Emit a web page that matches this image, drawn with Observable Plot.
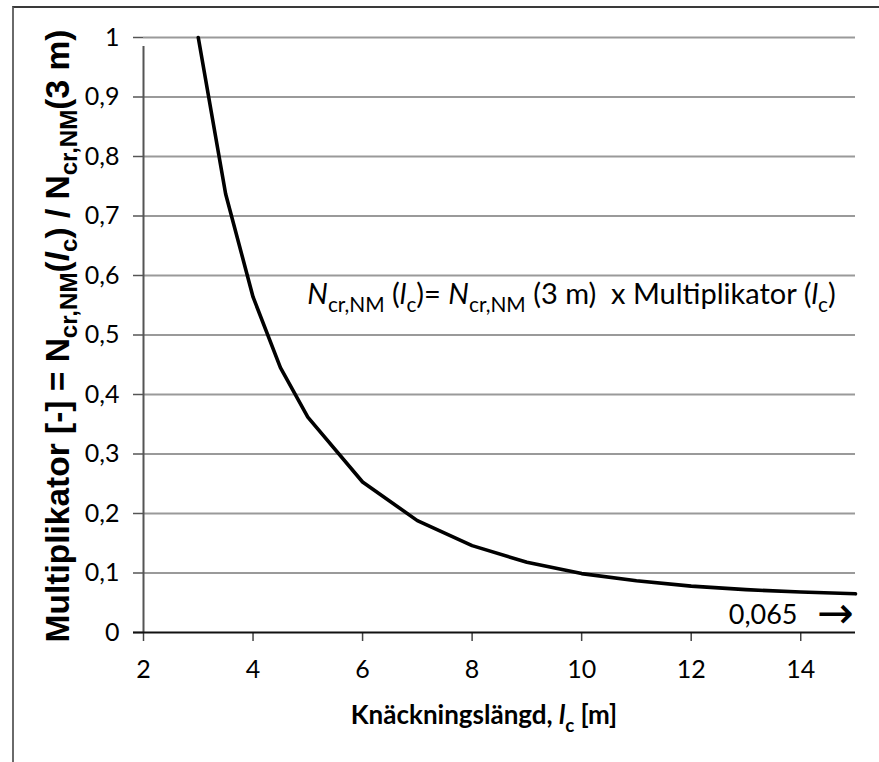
<!DOCTYPE html>
<html><head><meta charset="utf-8">
<script src="https://cdn.jsdelivr.net/npm/d3@7"></script>
<script src="https://cdn.jsdelivr.net/npm/@observablehq/plot@0.6"></script>
<style>
body{margin:0;background:#fff;}
#wrap{position:relative;width:879px;height:762px;overflow:hidden;background:#fff;}
#frame{position:absolute;left:12px;top:6px;width:900px;height:800px;border-top:2px solid #3a3a3a;border-left:2px solid #6a6a6a;pointer-events:none;}
#chart{position:absolute;left:0;top:0;}
</style></head><body><div id="wrap"><div id="chart"></div><div id="frame"></div></div>
<script>
// Buckling length l_c [m]
const lengths = [3, 3.5, 4, 4.5, 5, 6, 7, 8, 9, 10, 11, 12, 13, 14, 15];
// Multiplier N_cr,NM(l_c) / N_cr,NM(3 m)
const multipliers = [1, 0.737, 0.564, 0.445, 0.362, 0.253, 0.188, 0.146, 0.118, 0.099, 0.087, 0.078, 0.072, 0.068, 0.065];
const xTicks = [2, 4, 6, 8, 10, 12, 14];
const yTicks = [0, 0.1, 0.2, 0.3, 0.4, 0.5, 0.6, 0.7, 0.8, 0.9, 1];
const yTickLabels = ["0", "0,1", "0,2", "0,3", "0,4", "0,5", "0,6", "0,7", "0,8", "0,9", "1"];
const endLabel = "0,065";
const endArrow = "\u2192";

const data = lengths.map((l, i) => ({l, m: multipliers[i]}));
const FONT = "Lato, 'Open Sans', sans-serif";

const plot = Plot.plot({
  width: 879, height: 762,
  marginLeft: 143, marginRight: 24, marginTop: 37, marginBottom: 130,
  x: {domain: [2, 15]},
  y: {domain: [0, 1]},
  style: {fontFamily: FONT, fontSize: "25px", color: "#000", background: "transparent", overflow: "visible"},
  marks: [
    Plot.gridY(yTicks.slice(1), {stroke: "#9a9a9a", strokeWidth: 1.8, strokeOpacity: 1}),
    Plot.axisY(yTicks, {tickSize: 10, tickPadding: 14, tickFormat: (d) => yTickLabels[yTicks.indexOf(d)], stroke: "#555", strokeWidth: 1.5, fontSize: 25, label: null}),
    Plot.axisX(xTicks, {tickSize: 9, tickPadding: 19, stroke: "#444", strokeWidth: 1.5, fontSize: 25, label: null}),
    Plot.ruleX([2], {y1: 0, y2: 1, stroke: "#555", strokeWidth: 2, insetBottom: -9}),
    Plot.ruleY([0], {x1: 2, x2: 15, stroke: "#111", strokeWidth: 2, insetLeft: -10}),
    Plot.line(data, {x: "l", y: "m", stroke: "#000", strokeWidth: 3.6, strokeLinejoin: "round"}),
    Plot.text([endLabel], {x: 15, y: 0.029, text: (d) => d, textAnchor: "end", dx: -58, fontSize: 27, fill: "#000"}),
    Plot.text([endArrow], {x: 15, y: 0.031, text: (d) => d, textAnchor: "end", dx: -2, fontSize: 44, fontFamily: "'DejaVu Sans', sans-serif", fill: "#000"})
  ]
});
document.getElementById("chart").appendChild(plot);

function richText(x, y, parts, {size, family = FONT, weight = "normal", anchor = "start", rotate = 0, subShift = 0.3}) {
  const t = d3.select(plot).append("text")
    .attr("transform", `translate(${x},${y}) rotate(${rotate})`)
    .attr("font-family", family).attr("font-size", size).attr("font-weight", weight)
    .attr("text-anchor", anchor).attr("fill", "#000").attr("style", "white-space:pre");
  let cur = 0;
  for (const p of parts) {
    const ts = t.append("tspan").text(p.t);
    const target = p.sub ? size * subShift : 0;
    if (target !== cur) { ts.attr("dy", target - cur); cur = target; }
    if (p.sub) ts.attr("font-size", size * 0.72);
    if (p.it) ts.attr("font-style", "italic");
  }
  return t;
}

const sx = plot.scale("x"), sy = plot.scale("y");

// Equation annotation
richText(sx.apply(5.0), sy.apply(0.552), [
  {t: "N", it: true}, {t: "cr,NM", sub: true}, {t: " ("}, {t: "l", it: true}, {t: "c", sub: true},
  {t: ")= "}, {t: "N", it: true}, {t: "cr,NM", sub: true}, {t: " (3 m)  x Multiplikator ("},
  {t: "l", it: true}, {t: "c", sub: true}, {t: ")"}
], {size: 29});

// X axis title
richText(484, 724, [
  {t: "Knäckningslängd, "}, {t: "l", it: true}, {t: "c", sub: true}, {t: " [m]"}
], {size: 26, weight: "bold", anchor: "middle"});

// Y axis title
richText(69, 336, [
  {t: "Multiplikator [-] = N"}, {t: "cr,NM", sub: true}, {t: "("}, {t: "l", it: true}, {t: "c", sub: true},
  {t: ") / N"}, {t: "cr,NM", sub: true}, {t: "(3 m)"}
], {size: 33.5, family: "'Liberation Sans', Arial, sans-serif", weight: "bold", anchor: "middle", rotate: -90, subShift: 0.25});
</script></body></html>
